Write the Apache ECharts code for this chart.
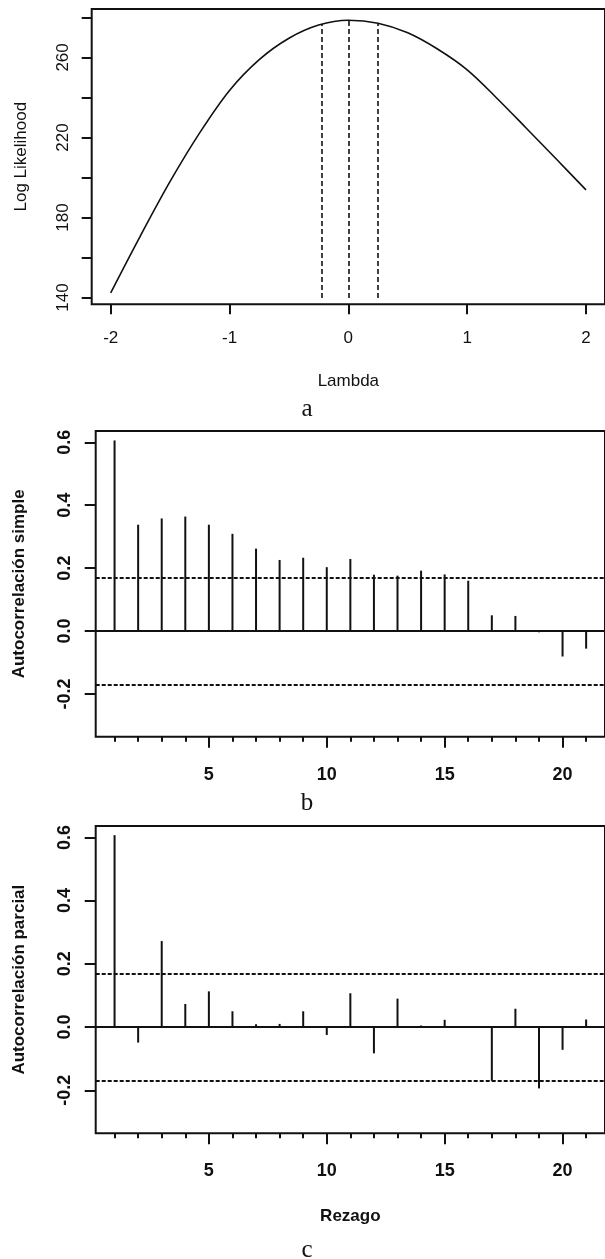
<!DOCTYPE html>
<html>
<head>
<meta charset="UTF-8">
<title>Box-Cox y autocorrelaciones</title>
<script src="https://cdn.jsdelivr.net/npm/echarts@6.0.0/dist/echarts.min.js"></script>
<style>
  html, body { margin: 0; padding: 0; background: #fff; }
  #chart { width: 605px; height: 1259px; }
</style>
</head>
<body>
<div id="chart"></div>
<script>
  // panel a: perfil de log-verosimilitud Box-Cox
  var lambdaVals = [-2, -1.75, -1.5, -1.25, -1, -0.75, -0.5, -0.25, 0, 0.25, 0.5, 0.75, 1, 1.25, 1.5, 1.75, 2];
  var logLik = [142.3, 170.8, 198.0, 222.4, 243.5, 258.9, 269.6, 276.2, 278.6, 277.1, 272.3, 264.2, 253.8, 239.6, 224.5, 209.2, 193.8];
  var lambdaTicks = [-2, -1, 0, 1, 2];
  var logLikTicks = [140, 160, 180, 200, 220, 240, 260, 280];
  var logLikLabels = [140, 180, 220, 260];
  var ciLambda = [-0.22, 0.005, 0.25];
  var ciTop = [276.7, 278.6, 276.7];
  var ciBottom = 139.7;

  // paneles b y c: autocorrelación simple y parcial
  var lags = [1, 2, 3, 4, 5, 6, 7, 8, 9, 10, 11, 12, 13, 14, 15, 16, 17, 18, 19, 20, 21];
  var acfVals = [0.606, 0.338, 0.358, 0.364, 0.338, 0.309, 0.262, 0.226, 0.233, 0.203, 0.229, 0.179, 0.176, 0.192, 0.180, 0.160, 0.050, 0.048, -0.004, -0.081, -0.056];
  var pacfVals = [0.607, -0.049, 0.272, 0.073, 0.113, 0.050, 0.009, 0.010, 0.050, -0.025, 0.107, -0.083, 0.090, 0.005, 0.023, 0.001, -0.170, 0.058, -0.194, -0.072, 0.024];
  var lagMajor = [5, 10, 15, 20];
  var corrTicks = [-0.2, 0, 0.2, 0.4, 0.6];
  var confLimit = 0.173;

  var ink = '#111';
  var sans = '"Liberation Sans", Arial, sans-serif';

  var chart = echarts.init(document.getElementById('chart'));

  function pairs(xs, ys) {
    return xs.map(function (x, i) { return [x, ys[i]]; });
  }

  // ejes x de los correlogramas: uno con todas las marcas cortas, otro con 5,10,15,20
  function lagAxes(gridIndex, title) {
    return [
      {
        type: 'value', gridIndex: gridIndex, position: 'bottom',
        min: 0.2, max: 21.8,
        splitLine: { show: false },
        axisLine: { show: false, onZero: false },
        axisTick: { show: true, length: 5, customValues: lags, lineStyle: { color: ink, width: 2 } },
        axisLabel: { show: false }
      },
      {
        type: 'value', gridIndex: gridIndex, position: 'bottom',
        min: 0.2, max: 21.8,
        splitLine: { show: false },
        axisLine: { show: false, onZero: false },
        axisTick: { show: true, length: 11, customValues: lagMajor, lineStyle: { color: ink, width: 2 } },
        axisLabel: {
          show: true, customValues: lagMajor, margin: 29,
          color: ink, fontFamily: sans, fontSize: 18, fontWeight: 'bold'
        },
        name: title, nameLocation: 'middle', nameGap: 75,
        nameTextStyle: { color: ink, fontFamily: sans, fontSize: 17, fontWeight: 'bold' }
      }
    ];
  }

  function corrAxis(gridIndex, title) {
    return {
      type: 'value', gridIndex: gridIndex,
      min: -0.336, max: 0.636,
      splitLine: { show: false },
      axisLine: { show: false, onZero: false },
      axisTick: { show: true, length: 11, customValues: corrTicks, lineStyle: { color: ink, width: 2 } },
      axisLabel: {
        show: true, customValues: corrTicks, rotate: 90, margin: 22,
        color: ink, fontFamily: sans, fontSize: 18, fontWeight: 'bold',
        formatter: function (v) { return v.toFixed(1); }
      },
      name: title, nameLocation: 'middle', nameGap: 68,
      nameTextStyle: { color: ink, fontFamily: sans, fontSize: 17, fontWeight: 'bold' }
    };
  }

  function corrSeries(xIndex, yIndex, values) {
    return {
      type: 'bar',
      xAxisIndex: xIndex, yAxisIndex: yIndex,
      data: pairs(lags, values),
      barWidth: 2,
      itemStyle: { color: ink },
      silent: true,
      markLine: {
        silent: true, symbol: 'none', label: { show: false },
        data: [
          { yAxis: 0, lineStyle: { type: 'solid', width: 2, color: ink } },
          { yAxis: confLimit, lineStyle: { type: [4, 2], width: 2, color: ink } },
          { yAxis: -confLimit, lineStyle: { type: [4, 2], width: 2, color: ink } }
        ]
      }
    };
  }

  var ciSegments = ciLambda.map(function (l, i) {
    return [{ coord: [l, ciBottom] }, { coord: [l, ciTop[i]] }];
  });

  var boxStyle = { show: true, borderColor: ink, borderWidth: 2, backgroundColor: 'transparent' };

  var option = {
    animation: false,
    backgroundColor: '#fff',
    grid: [
      Object.assign({ left: 91.7, top: 9, width: 518.4, height: 295.3 }, boxStyle),
      Object.assign({ left: 95.7, top: 431, width: 514.2, height: 305.7 }, boxStyle),
      Object.assign({ left: 95.7, top: 826, width: 514.2, height: 307.3 }, boxStyle)
    ],
    xAxis: [
      {
        type: 'value', gridIndex: 0, position: 'bottom',
        min: -2.16, max: 2.16,
        splitLine: { show: false },
        axisLine: { show: false, onZero: false },
        axisTick: { show: true, length: 10, customValues: lambdaTicks, lineStyle: { color: ink, width: 2 } },
        axisLabel: { show: true, customValues: lambdaTicks, margin: 26, color: ink, fontFamily: sans, fontSize: 17 },
        name: 'Lambda', nameLocation: 'middle', nameGap: 69,
        nameTextStyle: { color: ink, fontFamily: sans, fontSize: 17 }
      }
    ].concat(lagAxes(1, '')).concat(lagAxes(2, 'Rezago')),
    yAxis: [
      {
        type: 'value', gridIndex: 0,
        min: 136.6, max: 284.2,
        splitLine: { show: false },
        axisLine: { show: false, onZero: false },
        axisTick: { show: true, length: 10, customValues: logLikTicks, lineStyle: { color: ink, width: 2 } },
        axisLabel: {
          show: true, customValues: logLikLabels, rotate: 90, margin: 20,
          color: ink, fontFamily: sans, fontSize: 17
        },
        name: 'Log Likelihood', nameLocation: 'middle', nameGap: 62,
        nameTextStyle: { color: ink, fontFamily: sans, fontSize: 17 }
      },
      corrAxis(1, 'Autocorrelación simple'),
      corrAxis(2, 'Autocorrelación parcial')
    ],
    series: [
      {
        type: 'line',
        xAxisIndex: 0, yAxisIndex: 0,
        data: pairs(lambdaVals, logLik),
        smooth: 0.35,
        showSymbol: false,
        silent: true,
        lineStyle: { color: ink, width: 1.6 },
        markLine: {
          silent: true, symbol: 'none', label: { show: false },
          lineStyle: { type: [5, 3], width: 1.6, color: ink },
          data: ciSegments
        }
      },
      corrSeries(2, 1, acfVals),
      corrSeries(4, 2, pacfVals)
    ],
    graphic: [
      { type: 'text', x: 307, y: 409, style: { text: 'a', font: '25px "Liberation Serif", serif', fill: ink, textAlign: 'center', textVerticalAlign: 'middle' } },
      { type: 'text', x: 307, y: 803, style: { text: 'b', font: '25px "Liberation Serif", serif', fill: ink, textAlign: 'center', textVerticalAlign: 'middle' } },
      { type: 'text', x: 307, y: 1250, style: { text: 'c', font: '25px "Liberation Serif", serif', fill: ink, textAlign: 'center', textVerticalAlign: 'middle' } }
    ]
  };

  chart.setOption(option);
</script>
</body>
</html>
